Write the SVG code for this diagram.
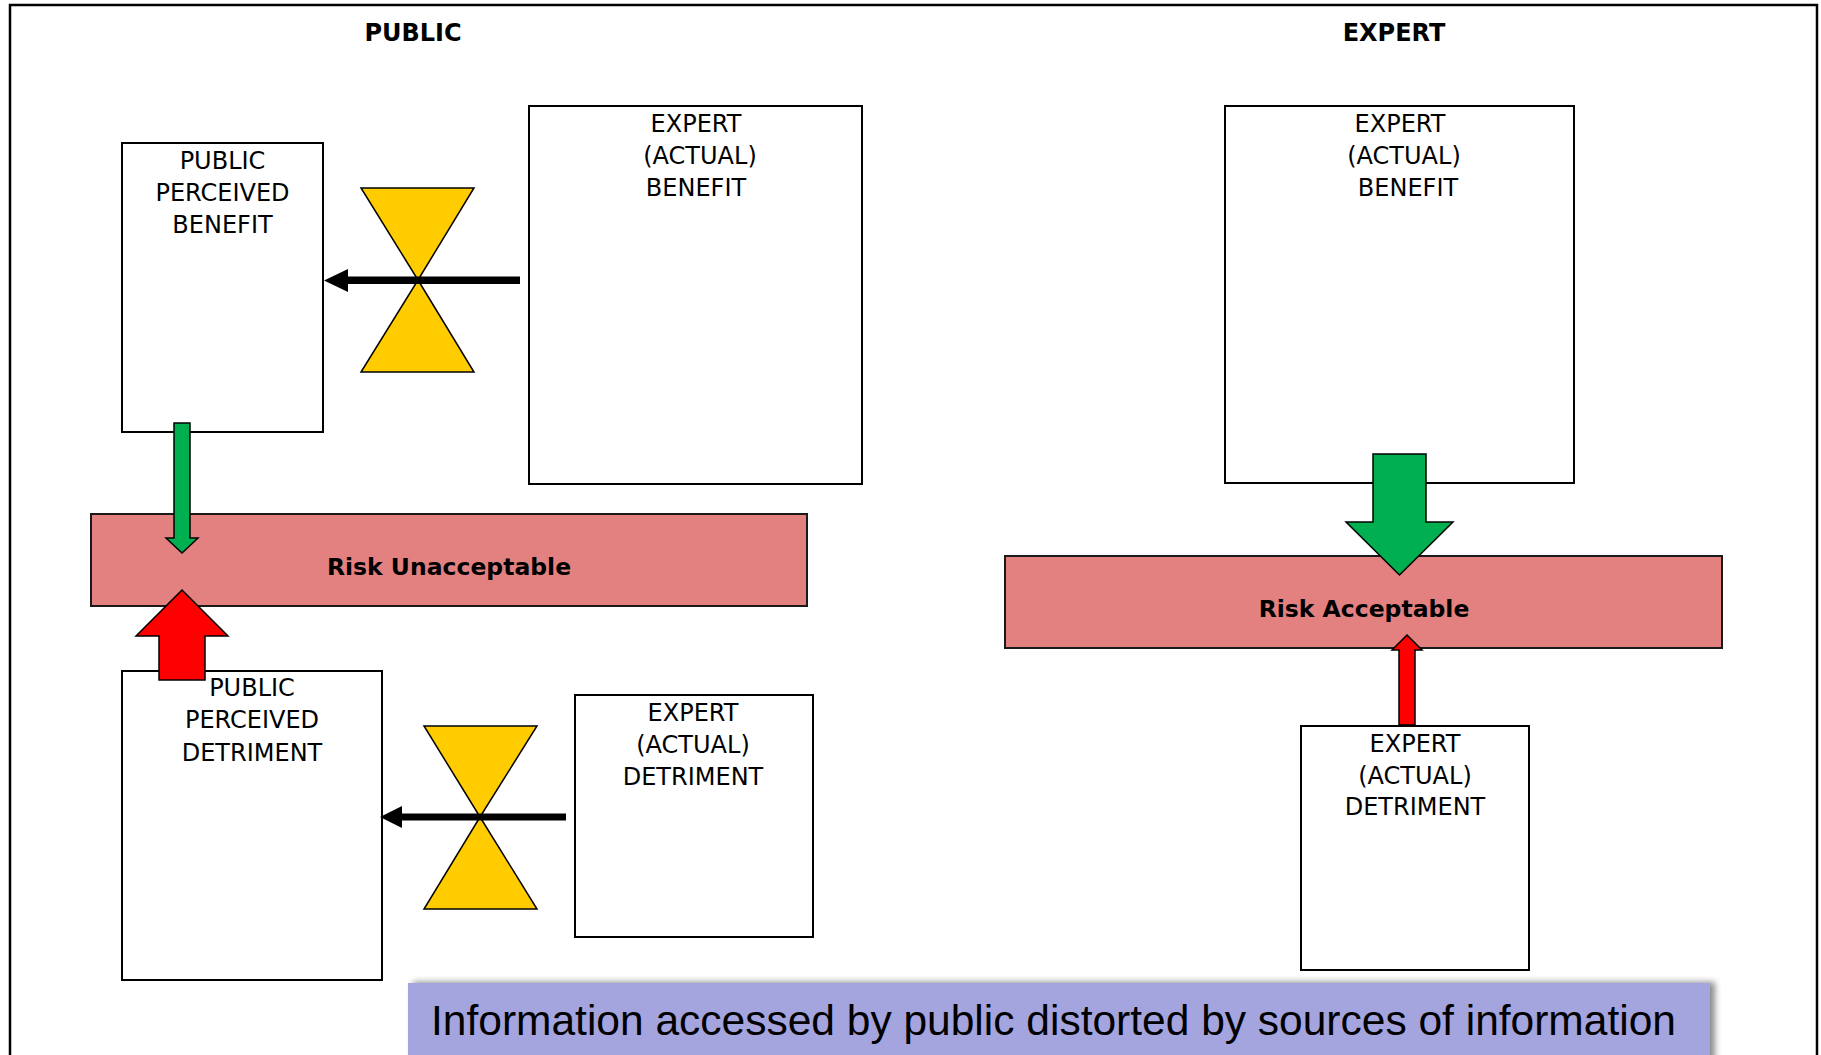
<svg xmlns="http://www.w3.org/2000/svg" width="1821" height="1055" viewBox="0 0 1821 1055">
<style>
.box{fill:#ffffff;stroke:#000000;stroke-width:2}
.bar{fill:#E38080;stroke:#1a1a1a;stroke-width:2}
.lbl{font-family:"DejaVu Sans",Verdana,sans-serif;font-size:24px;fill:#000000;text-anchor:middle}
.bold{font-family:"DejaVu Sans",Verdana,sans-serif;font-weight:bold;fill:#000000;text-anchor:middle}
.glass{fill:#FFCC00;stroke:#000000;stroke-width:1.5;stroke-linejoin:miter}
.green{fill:#00B050;stroke:#000000;stroke-width:1.5}
.red{fill:#FF0000;stroke:#000000;stroke-width:1.5}
.blk{fill:#000000}
</style>
<defs>
<filter id="shadow" x="-5%" y="-30%" width="110%" height="160%">
<feDropShadow dx="5" dy="-1" stdDeviation="3" flood-color="#000000" flood-opacity="0.45"/>
</filter>
</defs>
<rect x="0" y="0" width="1821" height="1055" fill="#ffffff"/>
<rect x="10" y="5" width="1807" height="1070" fill="none" stroke="#000000" stroke-width="2.5"/>

<g id="title-public"><text class="bold" x="413" y="41" font-size="24">PUBLIC</text></g>
<g id="title-expert"><text class="bold" x="1394" y="41" font-size="24">EXPERT</text></g>

<g id="public-perceived-benefit">
<rect class="box" x="122" y="143" width="201" height="289"/>
<text class="lbl" x="222.5" y="169">PUBLIC</text>
<text class="lbl" x="222.5" y="201">PERCEIVED</text>
<text class="lbl" x="222.5" y="233">BENEFIT</text>
</g>

<g id="expert-actual-benefit-left">
<rect class="box" x="529" y="106" width="333" height="378"/>
<text class="lbl" x="696" y="132">EXPERT</text>
<text class="lbl" x="700" y="164">(ACTUAL)</text>
<text class="lbl" x="696" y="196">BENEFIT</text>
</g>

<g id="expert-actual-benefit-right">
<rect class="box" x="1225" y="106" width="349" height="377"/>
<text class="lbl" x="1400" y="132">EXPERT</text>
<text class="lbl" x="1404" y="164">(ACTUAL)</text>
<text class="lbl" x="1408" y="196">BENEFIT</text>
</g>

<g id="risk-unacceptable">
<rect class="bar" x="91" y="514" width="716" height="92"/>
<text class="bold" x="449" y="575" font-size="23.5">Risk Unacceptable</text>
</g>

<g id="risk-acceptable">
<rect class="bar" x="1005" y="556" width="717" height="92"/>
<text class="bold" x="1364" y="617" font-size="23.5">Risk Acceptable</text>
</g>

<g id="public-perceived-detriment">
<rect class="box" x="122" y="671" width="260" height="309"/>
<text class="lbl" x="252" y="696">PUBLIC</text>
<text class="lbl" x="252" y="728">PERCEIVED</text>
<text class="lbl" x="252" y="761">DETRIMENT</text>
</g>

<g id="expert-actual-detriment-left">
<rect class="box" x="575" y="695" width="238" height="242"/>
<text class="lbl" x="693" y="721">EXPERT</text>
<text class="lbl" x="693" y="753">(ACTUAL)</text>
<text class="lbl" x="693" y="785">DETRIMENT</text>
</g>

<g id="expert-actual-detriment-right">
<rect class="box" x="1301" y="726" width="228" height="244"/>
<text class="lbl" x="1415" y="752">EXPERT</text>
<text class="lbl" x="1415" y="784">(ACTUAL)</text>
<text class="lbl" x="1415" y="815">DETRIMENT</text>
</g>

<g id="filter-benefit">
<polygon class="glass" points="361,188 474,188 418,280"/>
<polygon class="glass" points="418,280 474,372 361,372"/>
</g>

<g id="filter-detriment">
<polygon class="glass" points="424,726 537,726 480,817"/>
<polygon class="glass" points="480,817 537,909 424,909"/>
</g>

<g id="connectors">
<polygon class="blk" points="520,276.5 348,276.5 348,269 324,280.5 348,292 348,284 520,284"/>
<polygon class="blk" points="566,813.5 402,813.5 402,806 380,817 402,828 402,820.5 566,820.5"/>
<polygon class="green" points="174,423 190,423 190,538 198,538 182,553 166,538 174,538"/>
<polygon class="red" points="159,680 205,680 205,636 228,636 182,590 136,636 159,636"/>
<polygon class="green" points="1373,454 1426,454 1426,522 1453,522 1399.5,575 1346,522 1373,522"/>
<polygon class="red" points="1399,725 1415,725 1415,650 1422,650 1407,635 1392,650 1399,650"/>
</g>

<g id="caption">
<rect x="408" y="983" width="1302" height="80" fill="#A4A4DE" filter="url(#shadow)"/>
<text x="431" y="1035" font-family="'Liberation Sans',Arial,sans-serif" font-size="42.5" fill="#000000">Information accessed by public distorted by sources of information</text>
</g>
</svg>
